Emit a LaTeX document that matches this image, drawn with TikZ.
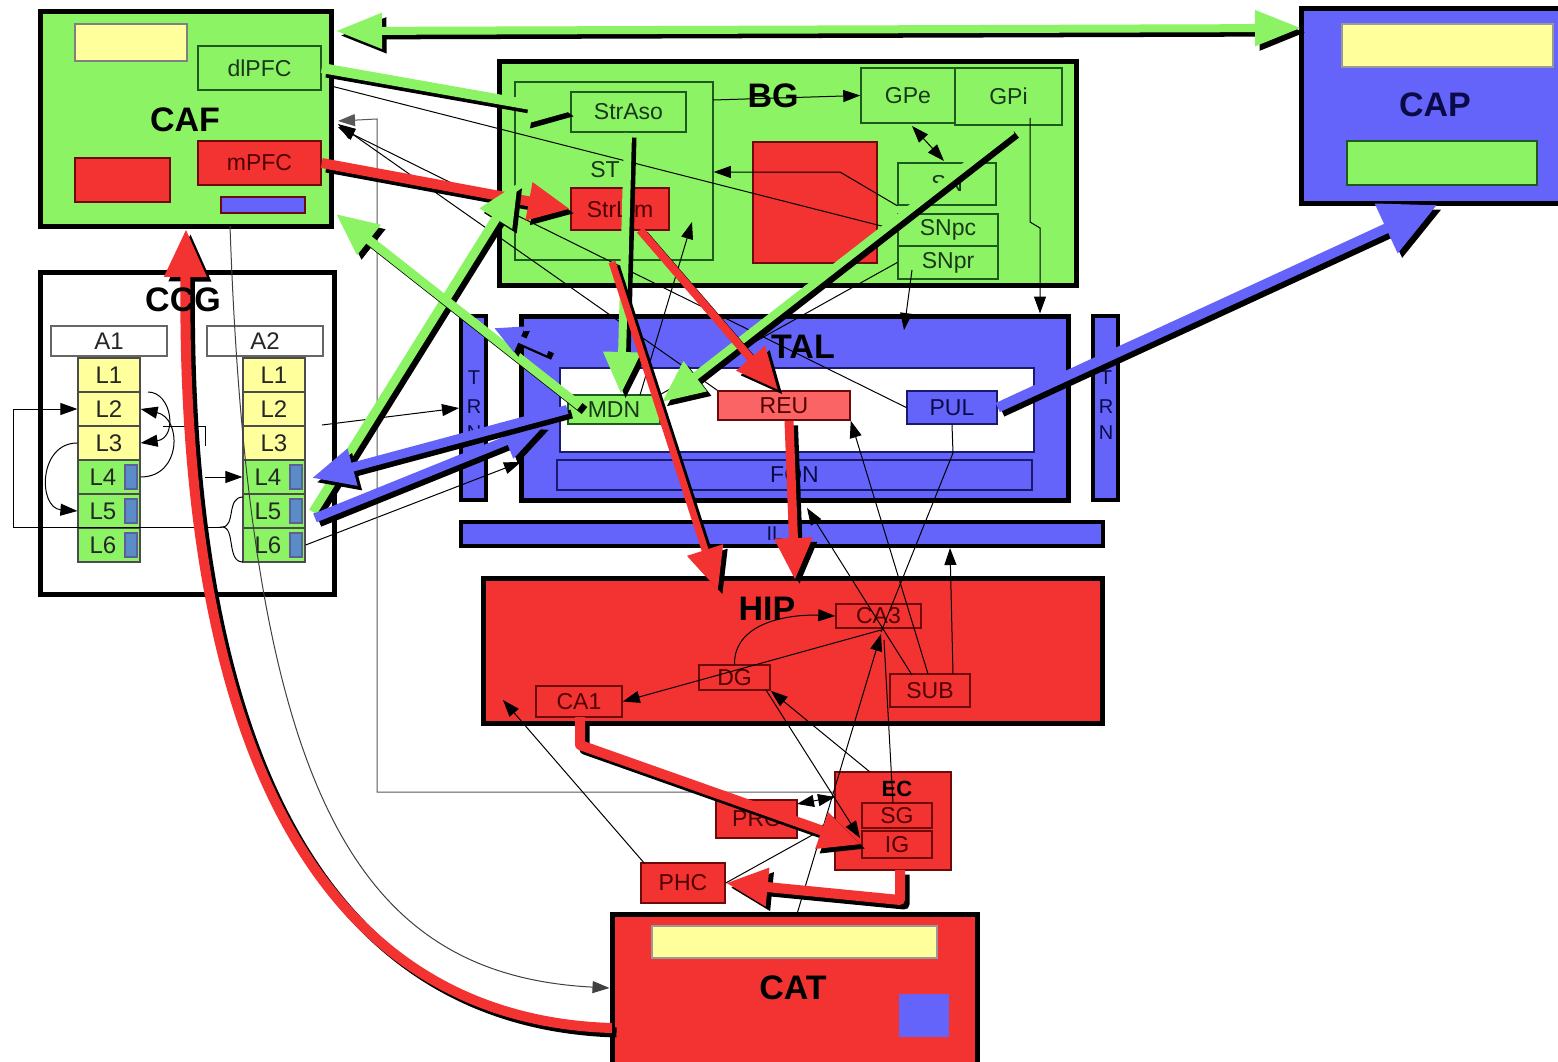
\documentclass[tikz,border=0pt]{standalone}
\usepackage{fontspec}
\setmainfont{Liberation Sans}
\usetikzlibrary{fit,arrows.meta,calc}
\definecolor{cgreen}{RGB}{140,244,100}
\definecolor{cred}{RGB}{243,50,50}
\definecolor{cblue}{RGB}{100,100,250}
\definecolor{cyellow}{RGB}{255,255,155}
\definecolor{clred}{RGB}{250,100,100}
\definecolor{csteel}{RGB}{90,140,200}
\definecolor{dgreen}{RGB}{30,90,30}
\definecolor{dred}{RGB}{110,10,10}
\definecolor{dblue}{RGB}{25,25,110}
\definecolor{tgreen}{RGB}{25,55,25}
\definecolor{tred}{RGB}{80,0,0}
\definecolor{tblue}{RGB}{10,10,70}
\newcommand\fsz[1]{\fontsize{#1}{#1}\selectfont}
% box with centred label: [text colour]{style}{corner}{corner}{name}{text}
\newcommand\bx[6][black]{\node[#2,fit={#3#4}] (#5) {};
  \node[font=\fsz{23},text=#1] (#5-t) at (#5.center) {#6};}
% shadowed thick arrow: {options}{colour}{path}
\newcommand\shad[3]{%
  \begin{scope}[transform canvas={xshift=4.5pt,yshift=-4.5pt}]
    \draw[#1,draw=black] #3;
  \end{scope}
  \draw[#1,draw=#2] #3;}
\begin{document}
\begin{tikzpicture}[x=1pt,y=-1pt,
  bigbox/.style={draw=black,line width=5pt,inner sep=0pt},
  subbox/.style={draw=#1,line width=1.5pt,inner sep=0pt},
  layerbox/.style={draw=black!70,line width=1.2pt,inner sep=0pt},
  biglab/.style={font=\bfseries\fsz{34}},
  lyr/.style={font=\fsz{24},text=black!85},
  thinarr/.style={draw=black,line width=1pt,-{Triangle[length=17pt,width=12pt]}},
  plainln/.style={draw=black,line width=1pt},
  thk/.style={line width=#1,line join=round,-{Triangle[length=42pt,width=36pt]}}
]
\useasboundingbox (0,0) rectangle (1558,1062);
\fill[white] (0,0) rectangle (1558,1062);

% ---------- CAF ----------
\node[bigbox,fill=cgreen,fit={(40,12)(331,226)}] (CAF) {};
\node[subbox=black!50,fill=cyellow,fit={(75,24)(187,61)}] (CAFy) {};
\bx[tgreen]{subbox=dgreen,fill=cgreen}{(198,46)}{(321,90)}{dlPFC}{dlPFC}
\node[subbox=dred,fill=cred,fit={(75,158)(170,202)}] (CAFr) {};
\bx[tred]{subbox=dred,fill=cred}{(198,141)}{(321,185)}{mPFC}{mPFC}
\node[subbox=dred,fill=cblue,fit={(221,197)(305,213)}] (CAFb) {};
\node[biglab] (tCAF) at (185,120) {CAF};

% ---------- CAP ----------
\node[bigbox,fill=cblue,fit={(1301,9)(1566,203)}] (CAP) {};
\node[subbox=black!40,fill=cyellow,fit={(1342,24)(1553,67)}] (CAPy) {};
\node[subbox=dgreen,fill=cgreen,fit={(1347,141)(1537,185)}] (CAPg) {};
\node[biglab,text=tblue] (tCAP) at (1435,105) {CAP};

% ---------- BG ----------
\node[bigbox,fill=cgreen,fit={(499,62)(1076,285)}] (BG) {};
\node[subbox=dgreen,fit={(515,82)(713,260)}] (ST) {};
\node[font=\fsz{23},text=tgreen] (tST) at (605,170) {ST};
\bx[tgreen]{subbox=dgreen,fill=cgreen}{(571,92)}{(686,132)}{StrAso}{StrAso}
\bx[tred]{subbox=dred,fill=cred}{(571,188)}{(669,230)}{StrLim}{StrLim}
\node[subbox=dred,fill=cred,fit={(753,142)(877,263)}] (BGr) {};
\bx[tgreen]{subbox=dgreen,fill=cgreen}{(861,68)}{(955,123)}{GPe}{GPe}
\bx[tgreen]{subbox=dgreen,fill=cgreen}{(955,68)}{(1062,125)}{GPi}{GPi}
\bx[tgreen]{subbox=dgreen,fill=cgreen}{(898,163)}{(996,205)}{SN}{SN}
\bx[tgreen]{subbox=dgreen,fill=cgreen}{(898,214)}{(998,246)}{SNpc}{SNpc}
\bx[tgreen]{subbox=dgreen,fill=cgreen}{(898,246)}{(998,279)}{SNpr}{SNpr}
\node[biglab] (tBG) at (773,96) {BG};

% ---------- TAL ----------
\node[bigbox,line width=4pt,fill=cblue,fit={(461,316)(486,500)}] (TRNL) {};
\node[bigbox,line width=4pt,fill=cblue,fit={(1093,316)(1118,500)}] (TRNR) {};
\foreach \xx/\nm in {474/l,1106/r}{
  \node[font=\fsz{20},text=tblue] (T\nm) at (\xx,378) {T};
  \node[font=\fsz{20},text=tblue] (R\nm) at (\xx,407) {R};
  \node[font=\fsz{20},text=tblue] (N\nm) at (\xx,433) {N};
}
\node[bigbox,fill=cblue,fit={(521,316)(1068,500)}] (TAL) {};
\node[subbox=dblue,fill=white,fit={(560,368)(1034,452)}] (TALw) {};
\bx[tgreen]{subbox=dgreen,fill=cgreen}{(568,395)}{(660,424)}{MDN}{MDN}
\bx[tred]{subbox=dred,fill=clred}{(718,391)}{(850,420)}{REU}{REU}
\bx[tblue]{subbox=dblue,fill=cblue}{(907,391)}{(997,424)}{PUL}{PUL}
\bx[tblue]{subbox=dblue,fill=cblue}{(557,460)}{(1032,490)}{FON}{FON}
\node[biglab] (tTAL) at (803,347) {TAL};
\node[bigbox,line width=4pt,fill=cblue,fit={(461,522)(1103,546)}] (IL) {};
\node[font=\fsz{20},text=tblue] (tIL) at (775,534) {IL};

% ---------- HIP ----------
\node[bigbox,fill=cred,fit={(483,578)(1102,723)}] (HIP) {};
\bx[tred]{subbox=dred,fill=cred}{(836,604)}{(921,628)}{CA3}{CA3}
\bx[tred]{subbox=dred,fill=cred}{(699,665)}{(770,690)}{DG}{DG}
\bx[tred]{subbox=dred,fill=cred}{(536,686)}{(622,717)}{CA1}{CA1}
\bx[tred]{subbox=dred,fill=cred}{(890,674)}{(970,707)}{SUB}{SUB}
\node[biglab] (tHIP) at (767,609) {HIP};

% ---------- EC, PRC, PHC ----------
\node[subbox=dred,fill=cred,fit={(835,772)(951,870)}] (EC) {};
\node[font=\bfseries\fsz{22}] (tEC) at (897,789) {EC};
\bx[tred]{subbox=dred,fill=cred}{(862,803)}{(932,828)}{SG}{SG}
\bx[tred]{subbox=dred,fill=cred}{(862,831)}{(932,858)}{IG}{IG}
\bx[tred]{subbox=dred,fill=cred}{(716,800)}{(797,838)}{PRC}{PRC}
\bx[tred]{subbox=dred,fill=cred}{(641,863)}{(725,903)}{PHC}{PHC}

% ---------- CAT ----------
\node[bigbox,fill=cred,fit={(612,914)(977,1068)}] (CAT) {};
\node[subbox=black!40,fill=cyellow,fit={(652,926)(937,958)}] (CATy) {};
\node[subbox=cblue,fill=cblue,fit={(900,995)(948,1036)}] (CATb) {};
\node[biglab] (tCAT) at (793,988) {CAT};

% ---------- CCG ----------
\node[bigbox,fill=white,fit={(40,272)(334,594)}] (CCG) {};
\node[layerbox,draw=black!60,fit={(51,326)(167,356)}] (A1) {};
\node[lyr] at (109,341) {A1};
\node[layerbox,draw=black!60,fit={(207,326)(323,356)}] (A2) {};
\node[lyr] at (265,341) {A2};
\foreach \col/\xl in {a/78,b/243}{
  \foreach \i/\fc in {1/cyellow,2/cyellow,3/cyellow,4/cgreen,5/cgreen,6/cgreen}{
    \pgfmathsetmacro\ya{358+34*(\i-1)}
    \pgfmathsetmacro\yb{358+34*\i}
    \pgfmathsetmacro\xr{\xl+62}
    \node[layerbox,fill=\fc,fit={(\xl,\ya)(\xr,\yb)}] (L\col\i) {};
  }
  \foreach \i in {1,2,3}{
    \pgfmathsetmacro\yc{375+34*(\i-1)}
    \pgfmathsetmacro\xc{\xl+31}
    \node[lyr] at (\xc,\yc) {L\i};
  }
  \foreach \i in {4,5,6}{
    \pgfmathsetmacro\yc{375+34*(\i-1)}
    \pgfmathsetmacro\xc{\xl+25}
    \pgfmathsetmacro\ba{\xl+47}
    \pgfmathsetmacro\bb{\xl+59}
    \pgfmathsetmacro\bya{\yc-12}
    \pgfmathsetmacro\byb{\yc+12}
    \node[lyr] at (\xc,\yc) {L\i};
    \node[layerbox,draw=dblue!70,fill=csteel,fit={(\ba,\bya)(\bb,\byb)}] (S\col\i) {};
  }
}

% ---------- thin connectors ----------
\coordinate (braceT) at (243,497);
\coordinate (braceM) at (222,527);
\coordinate (braceB) at (243,562);
\draw[plainln] (braceT) .. controls (226,497) and (236,527) .. (braceM) .. controls (236,527) and (226,562) .. (braceB);
\draw[thinarr] (braceM) -- (13,527) -- (13,409) -- (La2.west);
\draw[thinarr] (La3.west) .. controls (38,443) and (38,508) .. (La5.west);
\draw[thinarr] (La4.east) .. controls (182,477) and (182,418) .. (La2.east);
\draw[thinarr] (148,392) .. controls (172,392) and (178,438) .. (La3.east);
\draw[plainln] (163,426) -- (205,426) -- (205,446);
\draw[thinarr] (205,477) -- (Lb4.west);
\draw[thinarr] (322,425) -- (TRNL.west);
\draw[thinarr] (Lb6.east) -- (521,462);
\draw[thinarr,draw=black!75] (230,226) .. controls (250,800) and (360,975) .. (CAT.west |- 0,988);
\draw[thinarr,draw=black!65] (835,792) -- (377,792) -- (377,119) -- (338,121);
\draw[thinarr] (REU.north west) -- (338,124);
\draw[thinarr] (PUL.west) -- (338,127);
\draw[plainln] (SNpc.west) -- (331,86);
\draw[thinarr] (713,100) -- (GPe.west);
\draw[thinarr,{Triangle[length=17pt,width=12pt]}-{Triangle[length=17pt,width=12pt]}] (912,126) -- (944,161);
\draw[thinarr] (SN.south west) -- (840,172) -- (ST.east |- 0,172);
\draw[thinarr] (1030,118) -- (1030,222) -- (1040,228) -- (TAL.north -| 1040,0);
\draw[thinarr] (912,270) -- (904,330);
\draw[plainln] (SNpr.west) -- (MDN.north east);
\draw[thinarr] (640,395) -- (692,222);
\draw[thinarr] (DG.north) .. controls (734,622) and (790,614) .. (CA3.west);
\draw[thinarr] (881,630) -- (CA1.east);
\draw[thinarr] (928,674) -- (REU.south east);
\draw[plainln] (PUL.south) -- (953,453) -- (881,632);
\draw[thinarr] (912,675) -- (807,508);
\draw[thinarr] (953,674) -- (IL.south -| 950,0);
\draw[thinarr] (797,914) -- (881,634);
\draw[plainln] (893,803) -- (884,640);
\draw[thinarr] (870,772) -- (DG.south east);
\draw[thinarr] (766,690) -- (860,838);
\draw[thinarr] (PHC.east) -- (834,823);
\draw[thinarr,{Triangle[length=17pt,width=12pt]}-{Triangle[length=17pt,width=12pt]}] (797,804) -- (835,797);
\draw[thinarr] (645,864) -- (503,700);

% ---------- thick shadowed arrows ----------
\shad{thk=8pt,{Triangle[length=46pt,width=34pt]}-{Triangle[length=46pt,width=34pt]}}{cgreen}{(336,31) -- (1301,28)}
\shad{thk=10pt}{cgreen}{(dlPFC.east) -- (StrAso.west)}
\shad{thk=10pt}{cred}{(mPFC.east) -- (StrLim.west)}
\shad{thk=8pt}{cgreen}{(1012,130) -- (662,402)}
\shad{thk=8pt}{cgreen}{(628,133) -- (621,394)}
\shad{thk=8pt}{cred}{(640,230) -- (778,390)}
\shad{thk=7pt}{cred}{(612,262) -- (718,590)}
\shad{thk=9pt}{cred}{(789,421) -- (795,580)}
\shad{thk=9pt}{cgreen}{(313,512) -- (518,183)}
\shad{thk=9pt}{cblue}{(315,518) -- (545,425)}
\shad{thk=9pt}{cblue}{(MDN.west) -- (312,478)}
\shad{thk=9pt}{cgreen}{(580,406) -- (336,214)}
\shad{thk=7pt,-{Triangle[length=28pt,width=26pt]}}{cblue}{(548,352) -- (494,328)}
\shad{thk=10pt,-{Triangle[length=56pt,width=52pt]}}{cblue}{(PUL.east) -- (1437,205)}
\shad{thk=10pt}{cred}{(580,717) -- (580,745) -- (IG.west)}
\shad{thk=10pt}{cred}{(900,870) -- (900,900) -- (PHC.east)}
\shad{thk=10pt,-{Triangle[length=48pt,width=40pt]}}{cred}{(612,1028) .. controls (340,1020) and (180,780) .. (186,229)}
\node[biglab] (tCCG) at (183,300) {CCG};
\end{tikzpicture}
\end{document}
